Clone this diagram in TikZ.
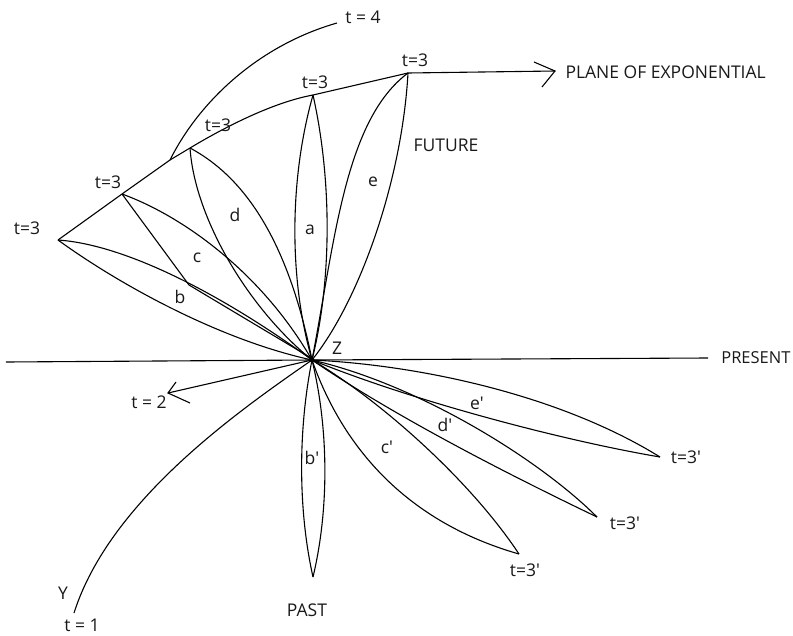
\documentclass[tikz,border=0pt]{standalone}
\usepackage{fontspec}
\setmainfont{Open Sans}
\begin{document}
\begin{tikzpicture}[x=1pt,y=-1pt,line width=1.1pt,
  lbl/.style={font=\fontsize{17.5}{17.5}\selectfont, inner sep=0pt, text=black!90}]
\useasboundingbox (0,0) rectangle (793,635);
\fill[white] (0,0) rectangle (793,635);
% key points
\coordinate (Z) at (312,360);
\coordinate (L) at (6,362);
\coordinate (R) at (708,358);
\coordinate (P1) at (58,240);
\coordinate (P2) at (122,194);
\coordinate (K) at (189,285);
\coordinate (J) at (170,160);
\coordinate (P4) at (190,148);
\coordinate (P5) at (313,95);
\coordinate (P6) at (408,73);
\coordinate (T4) at (337,23);
\coordinate (PE) at (555,71);
\coordinate (PEa) at (534,62);
\coordinate (PEb) at (542,87);
\coordinate (T2) at (168,393);
\coordinate (T2a) at (176,382);
\coordinate (T2b) at (190,403);
\coordinate (Y1) at (74,613);
\coordinate (Bp) at (313,577);
\coordinate (Cp) at (519,554);
\coordinate (Dp) at (597,517);
\coordinate (Ep) at (660,457);

% present line
\draw (L) -- (Z) -- (R);
% upper arc
\draw (P1) -- (P2) -- (J) -- (P4) .. controls (220,130) and (270,103) .. (P5) -- (P6);
% t=4 curve
\draw (J) .. controls (200,100) and (260,45) .. (T4);
% plane of exponential arrow
\draw (P6) -- (PE);
\draw (PEa) -- (PE) -- (PEb);
% lenses (future)
\draw (P5) .. controls (289,180) and (289,280) .. (Z);
\draw (P5) .. controls (332,180) and (332,280) .. (Z);
\draw (P1) .. controls (130,245) and (230,300) .. (Z);
\draw (P1) .. controls (120,285) and (220,340) .. (Z);
\draw (P2) -- (K) -- ([yshift=1.5pt]Z);
\draw (P2) .. controls (180,215) and (260,270) .. (Z);
\draw (P4) .. controls (195,220) and (250,310) .. (Z);
\draw (P4) .. controls (250,180) and (290,250) .. (Z);
\draw (P6) .. controls (345,120) and (335,240) .. (Z);
\draw (P6) .. controls (402,180) and (360,300) .. (Z);
% t=2 arrow
\draw (Z) -- (T2);
\draw (T2a) -- (T2) -- (T2b);
% Y curve
\draw (Z) .. controls (240,410) and (110,500) .. (Y1);
% lenses (past)
\draw (Z) .. controls (298,430) and (298,510) .. (Bp);
\draw (Z) .. controls (329,430) and (329,510) .. (Bp);
\draw (Z) .. controls (340,440) and (400,520) .. (Cp);
\draw (Z) .. controls (380,400) and (470,480) .. (Cp);
\draw (Z) .. controls (420,385) and (540,460) .. (Dp);
\draw (Z) .. controls (400,420) and (520,480) .. (Dp);
\draw (Z) .. controls (420,365) and (560,395) .. (Ep);
\draw (Z) .. controls (410,400) and (560,440) .. (Ep);
% centre dot
\fill (Z) circle (2.4);

% labels
\node[lbl] (lt4) at (363,17) {t = 4};
\node[lbl] (l6) at (415,60) {t=3};
\node[lbl] (l5) at (315,82) {t=3};
\node[lbl] (l4) at (218,125) {t=3};
\node[lbl] (l2) at (108,182) {t=3};
\node[lbl] (l1) at (27,228) {t=3};
\node[lbl, anchor=west] (lpe) at (565,72) {PLANE OF EXPONENTIAL};
\node[lbl] (lfut) at (446,145) {FUTURE};
\node[lbl] (la) at (310,230) {a};
\node[lbl] (lb) at (180,297) {b};
\node[lbl] (lc) at (197,258) {c};
\node[lbl] (ld) at (235,215) {d};
\node[lbl] (le) at (373,182) {e};
\node[lbl] (lz) at (337,348) {Z};
\node[lbl, anchor=east, font=\fontsize{16.5}{16.5}\selectfont] (lpres) at (791,358) {PRESENT};
\node[lbl] (lt2) at (149,402) {t = 2};
\node[lbl] (lbp) at (312,458) {b\textquotesingle};
\node[lbl] (lcp) at (387,447) {c\textquotesingle};
\node[lbl] (ldp) at (445,425) {d\textquotesingle};
\node[lbl] (lep) at (477,403) {e\textquotesingle};
\node[lbl] (lte) at (686,457) {t=3\textquotesingle};
\node[lbl] (ltd) at (625,523) {t=3\textquotesingle};
\node[lbl] (ltc) at (525,570) {t=3\textquotesingle};
\node[lbl] (lpast) at (307,610) {PAST};
\node[lbl] (ly) at (63,593) {Y};
\node[lbl] (lt1) at (82,625) {t = 1};
\end{tikzpicture}
\end{document}
